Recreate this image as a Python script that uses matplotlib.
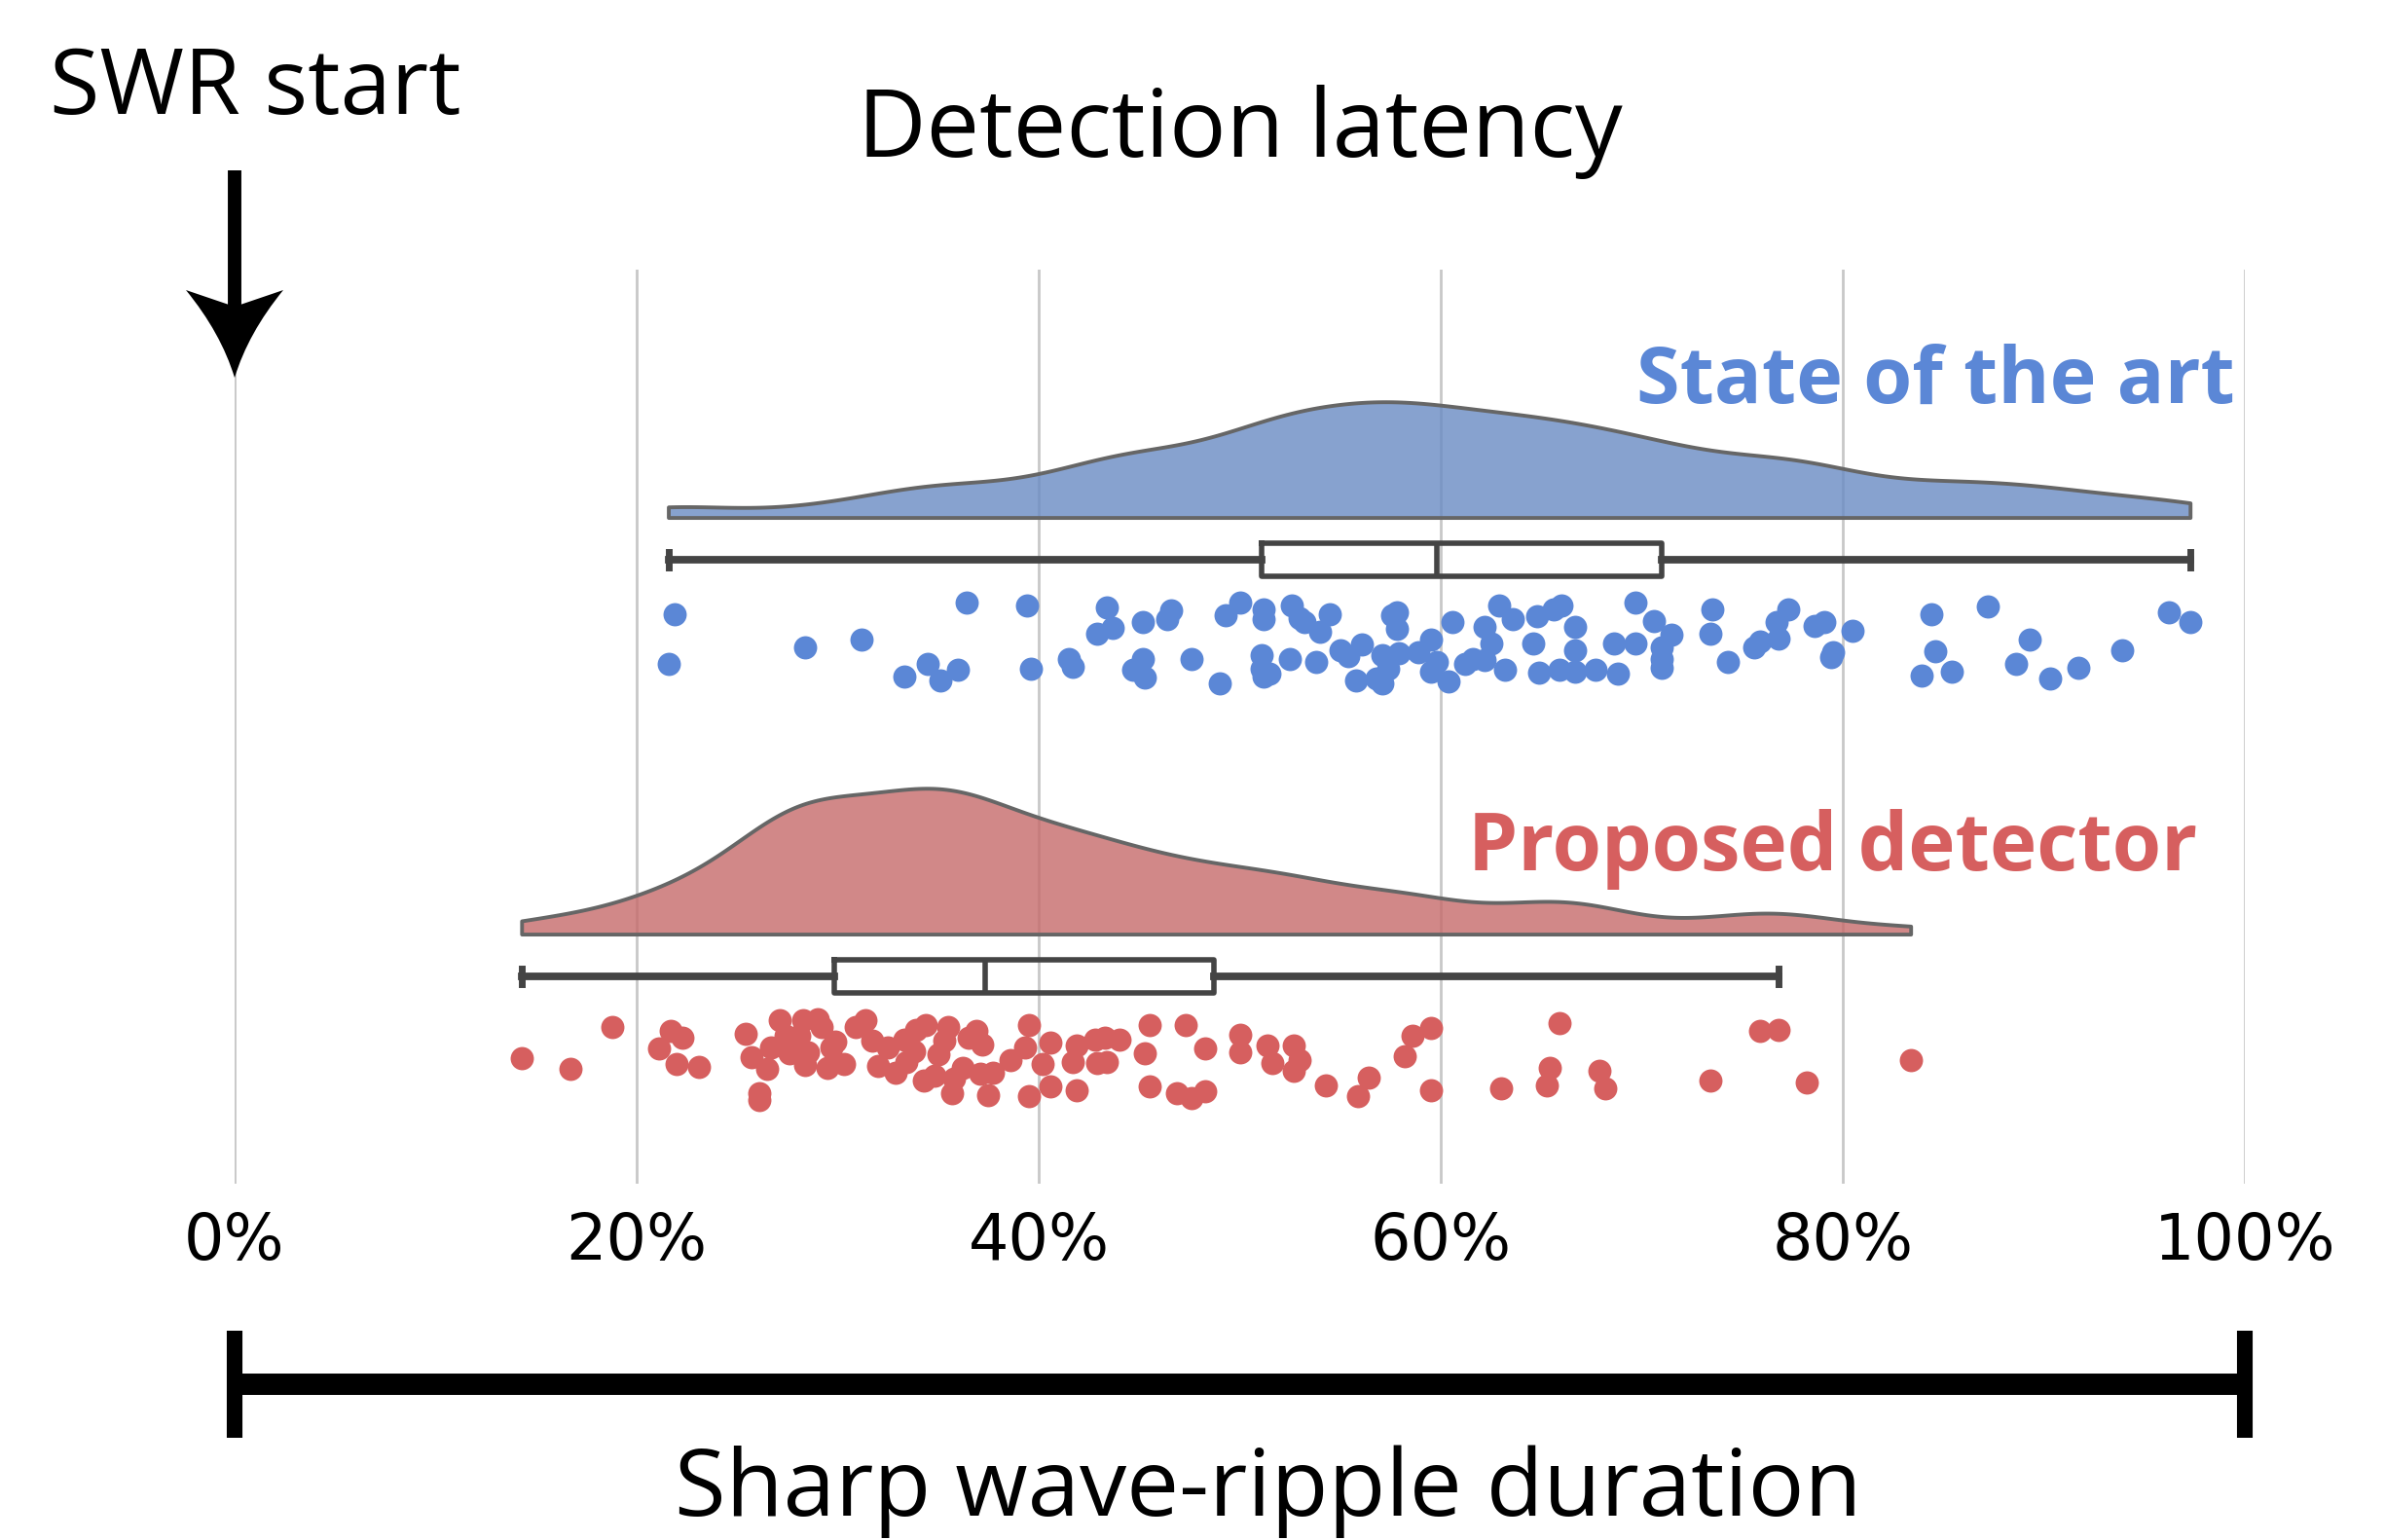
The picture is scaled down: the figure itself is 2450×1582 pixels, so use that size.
import numpy as np
import matplotlib
matplotlib.use("Agg")
import matplotlib.pyplot as plt
from matplotlib import cbook
from matplotlib.path import Path
from matplotlib.patches import PathPatch
import matplotlib.transforms as mtransforms

# ---------------- data ----------------
groups = ["State of the art", "Proposed detector"]

sota_latency = [
    21.9, 21.6, 28.4, 31.2, 33.3, 34.5, 35.1, 36.0, 36.4, 39.4, 39.6, 41.5,
    41.7, 43.4, 42.9, 43.7, 45.2, 46.6, 46.4, 44.7, 45.2, 45.3, 47.6, 49.0,
    49.3, 50.0, 51.2, 51.2, 51.1, 51.1, 51.2, 52.5, 52.6, 53.2, 54.0, 54.5,
    53.8, 55.0, 56.1, 55.8, 57.1, 57.1, 57.4, 57.8, 57.8, 57.9,
    58.9, 59.5, 59.5, 60.4, 60.6, 61.2, 61.6, 62.2, 62.2, 62.5, 62.9, 63.6,
    63.2, 64.6, 64.8, 64.9, 65.6, 66.0, 65.9, 66.7, 66.7, 66.7, 67.7, 68.6,
    68.8, 69.7, 69.7, 70.6, 71.5, 71.0, 71.0, 71.0, 73.5, 73.4, 74.3, 75.6,
    75.9, 76.8, 76.7, 77.3, 78.6, 79.1, 79.5, 79.4, 80.5, 84.4, 84.6, 83.9,
    85.4, 87.2, 89.3, 88.6, 90.3, 91.7, 93.9, 96.2, 97.3,
    51.5, 53.0, 55.4, 56.8, 57.6, 59.8,
]
sota_jitter = [
    -0.72, 0.51, 0.11, -0.09, 0.82, 0.51, 0.92, 0.67, -0.99, -0.93, 0.65, 0.39,
    0.59, -0.89, -0.23, -0.37, -0.52, -0.80, -0.60, 0.67, 0.39, 0.86, 0.40, 1.00,
    -0.68, -1.00, -0.84, -0.58, 0.30, 0.63, 0.84, 0.40, -0.93, -0.52, -0.27, -0.70,
    0.48, 0.18, 0.04, 0.94, 1.00, 0.30, 0.63, -0.76, -0.35, 0.26,
    0.22, -0.09, 0.71, 0.96, -0.52, 0.51, 0.39, 0.43, -0.39, 0.02, -0.93, -0.60,
    0.67, 0.02, -0.66, 0.73, -0.84, -0.93, 0.67, -0.39, 0.18, 0.71, 0.67, 0.02,
    0.75, 0.02, -0.99, -0.53, -0.20, 0.10, 0.40, 0.61, -0.84, -0.23, 0.48, 0.12,
    -0.04, -0.11, -0.52, -0.84, -0.43, -0.52, 0.22, 0.34, -0.31, -0.70, 0.20, 0.81,
    0.71, -0.90, -0.08, 0.51, 0.88, 0.61, 0.18, -0.75, -0.52,
    0.75, -0.62, 0.32, 0.88, -0.68, 0.46,
]

prop_latency = [
    14.3, 16.7, 18.8, 21.1, 21.7, 22.3, 22.0, 23.1, 25.4, 25.7, 26.1, 26.1,
    26.5, 26.7, 27.1, 27.4, 28.1, 28.3, 29.0, 29.2, 27.6, 28.4, 28.5, 29.7,
    29.5, 30.3, 30.9, 31.4, 31.7, 32.5, 33.3, 33.4, 32.9, 33.9, 34.4, 35.5,
    35.3, 35.0, 34.3, 36.2, 35.8, 35.7, 36.9, 37.2, 37.1, 37.7, 37.5, 38.6,
    39.3, 39.5, 39.5, 40.6, 40.6, 41.7, 41.9, 41.9, 42.8, 42.9, 43.3, 43.4,
    44.0, 45.3, 45.5, 45.5, 46.9, 47.3, 47.6, 48.3, 48.3, 50.0, 50.0, 51.4,
    51.6, 52.7, 52.7, 53.0,
    54.3, 56.4, 55.9, 58.2, 58.6, 59.5, 59.5, 63.0, 65.9, 65.4, 65.3, 67.9,
    68.2, 73.4, 75.9, 76.8, 78.2, 83.4,
    29.9, 32.0, 33.8, 34.8, 36.5, 40.2,
]
prop_jitter = [
    -0.03, 0.22, -0.81, -0.27, -0.72, -0.54, 0.10, 0.18, -0.63, -0.07, 0.83, 1.00,
    0.24, -0.30, -0.97, -0.58, -0.58, -0.98, -1.00, -0.81, -0.15, 0.13, -0.19, -0.30,
    0.20, 0.10, -0.81, -0.97, -0.46, -0.30, -0.50, 0.05, 0.32, -0.73, -0.85, -0.81,
    -0.46, -0.13, 0.52, 0.20, 0.48, 0.83, -0.72, -0.38, 0.36, 0.32, 0.89, 0.01,
    -0.30, -0.85, 0.91, -0.41, 0.67, 0.07, -0.34, 0.75, -0.50, 0.09, -0.54, 0.05,
    -0.50, -0.15, -0.85, 0.67, 0.83, -0.85, 0.95, -0.27, 0.79, -0.62, -0.19, -0.34,
    0.09, -0.34, 0.28, 0.01,
    0.65, 0.45, 0.91, -0.09, -0.59, -0.77, 0.77, 0.72, -0.91, 0.20, 0.65, 0.28,
    0.70, 0.52, -0.72, -0.73, 0.56, 0.02,
    -0.45, 0.15, -0.20, 0.40, -0.55, 0.10,
]

tick_values = [0, 20, 40, 60, 80, 100]
tick_labels = ["0%", "20%", "40%", "60%", "80%", "100%"]

# ---------------- style ----------------
point_colors = ["#5b87d6", "#d65f5f"]
cloud_colors = [(0.41, 0.545, 0.77, 0.80), (0.775, 0.415, 0.415, 0.80)]
edge_gray = "#666666"
box_gray = "#444444"
TXT = ["Open Sans", "DejaVu Sans"]

W, H, DPI = 2450, 1582, 200
fig = plt.figure(figsize=(W / DPI, H / DPI), dpi=DPI)
ax = fig.add_axes([241 / W, 1 - 1216 / H, (2306 - 241) / W, (1216 - 277) / H])
ax.set_xlim(0, 100)
ax.set_ylim(1.498, -0.696)

for s in ax.spines.values():
    s.set_visible(False)
ax.set_xticks(tick_values)
ax.set_xticklabels(tick_labels, fontsize=23.5, family="DejaVu Sans")
ax.set_yticks([])
ax.tick_params(axis="x", length=0, pad=10)
ax.grid(axis="x", color="#c8c8c8", linewidth=1.0, zorder=0)
ax.set_axisbelow(True)


def kde(vals, grid, factor=0.2):
    v = np.asarray(vals, dtype=float)
    bw = v.std(ddof=1) * factor
    z = (grid[:, None] - v[None, :]) / bw
    return np.exp(-0.5 * z ** 2).sum(axis=1) / (len(v) * bw * np.sqrt(2 * np.pi))


datasets = [sota_latency, prop_latency]
jitters = [sota_jitter, prop_jitter]
grids = [np.linspace(min(d), max(d), 400) for d in datasets]
dens = [kde(d, g) for d, g in zip(datasets, grids)]
dmax = max(d.max() for d in dens)

CLOUD_OFF, CLOUD_H = -0.10, 0.35
STRIP_OFF, JIT = 0.20, 0.097

for i, (vals, jit, g, d) in enumerate(zip(datasets, jitters, grids, dens)):
    base = i + CLOUD_OFF
    top = base - CLOUD_H * d / dmax
    ax.fill(np.r_[g, g[::-1]], np.r_[top, np.full_like(g, base)],
            facecolor=cloud_colors[i], edgecolor=edge_gray, linewidth=1.4,
            joinstyle="round", zorder=1)

    stats = cbook.boxplot_stats(np.asarray(vals), whis=1.5)
    ax.bxp(stats, positions=[i], widths=0.08, capwidths=0.037,
           orientation="horizontal", showfliers=False,
           boxprops=dict(color=box_gray, linewidth=2.0),
           whiskerprops=dict(color=box_gray, linewidth=2.8),
           capprops=dict(color=box_gray, linewidth=2.5),
           medianprops=dict(color=box_gray, linewidth=2.0),
           zorder=2, manage_ticks=False)

    ax.scatter(vals, i + STRIP_OFF + JIT * np.asarray(jit), s=74,
               color=point_colors[i], linewidths=0, zorder=3)

# group labels
ax.text(84.6, -0.376, groups[0], ha="center", va="baseline", fontsize=29.2,
        fontweight="bold", color=point_colors[0], family=TXT, zorder=4)
ax.text(79.5, 0.745, groups[1], ha="center", va="baseline", fontsize=29.4,
        fontweight="bold", color=point_colors[1], family=TXT, zorder=4)

# titles
fig.text(0.5198, 1 - 161 / H, "Detection latency", ha="center", va="baseline",
         fontsize=35, family=TXT)
fig.text(51 / W, 1 - 117 / H, "SWR start", ha="left", va="baseline",
         fontsize=33.8, family=TXT)
fig.text(1303 / W, 1 - 1557 / H, "Sharp wave-ripple duration", ha="center",
         va="baseline", fontsize=34.6, family=TXT)

# scale bar under the axis (x in data units, y in figure units)
bt = mtransforms.blended_transform_factory(ax.transData, fig.transFigure)
ax.plot([0, 100], [1 - 1422 / H] * 2, transform=bt, color="black",
        linewidth=7.9, solid_capstyle="butt", clip_on=False)
for xv in (0, 100):
    ax.plot([xv, xv], [1 - 1477 / H, 1 - 1367 / H], transform=bt, color="black",
            linewidth=5.8, solid_capstyle="butt", clip_on=False)

# "SWR start" arrow at 0 %
tipx = ax.transData.transform((0, 0))[0]
tipy = fig.transFigure.transform((0, 1 - 388 / H))[1]
ax.plot([0, 0], [1 - 175 / H, 1 - 318 / H], transform=bt, color="black",
        linewidth=5.0, solid_capstyle="butt", clip_on=False, zorder=5)
head = Path(
    [(0, 0), (-14, 46), (-50, 90), (0, 73), (50, 90), (14, 46), (0, 0), (0, 0)],
    [Path.MOVETO, Path.CURVE3, Path.CURVE3, Path.LINETO, Path.LINETO,
     Path.CURVE3, Path.CURVE3, Path.CLOSEPOLY],
)
ax.add_artist(PathPatch(head, facecolor="black", edgecolor="none",
                        transform=mtransforms.Affine2D().translate(tipx, tipy),
                        clip_on=False, zorder=5))

fig.savefig("out.png", dpi=DPI)
